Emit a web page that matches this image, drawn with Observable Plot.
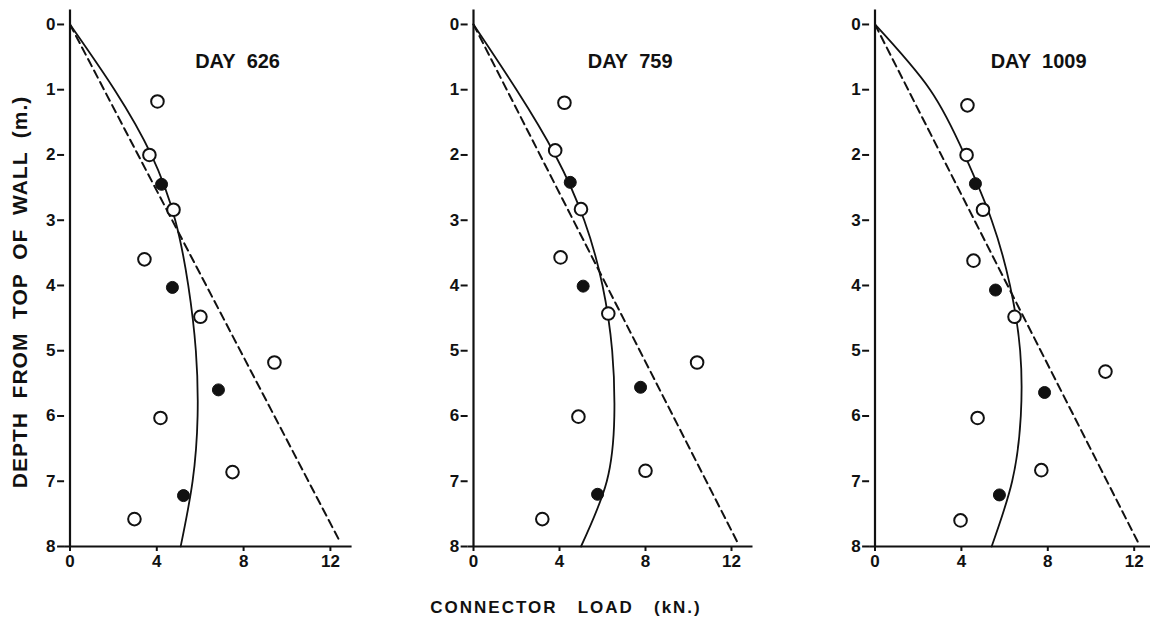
<!DOCTYPE html>
<html><head><meta charset="utf-8">
<script src="https://cdn.jsdelivr.net/npm/d3@7"></script>
<script src="https://cdn.jsdelivr.net/npm/@observablehq/plot@0.6"></script>
<style>
html,body{margin:0;padding:0;background:#fff;overflow:hidden;}
#wrap{position:relative;width:1150px;height:627px;overflow:hidden;font-family:"Liberation Sans",Arial,Helvetica,sans-serif;color:#111;}
.panel{position:absolute;top:0;}
#ylab{position:absolute;left:20px;top:292px;transform:translate(-50%,-50%) rotate(-90deg);white-space:pre;font-weight:bold;font-size:21px;letter-spacing:1px;}
#xlab{position:absolute;left:566px;top:608px;transform:translate(-50%,-50%);white-space:pre;font-weight:bold;font-size:17px;letter-spacing:2px;}
</style></head><body>
<div id="wrap">
  <div id="ylab">DEPTH  FROM  TOP  OF  WALL  (m.)</div>
  <div id="xlab">CONNECTOR   LOAD   (kN.)</div>
</div>
<script>
// ---- data (load kN, depth m) ----
const dayLabels = ["DAY\u00a0\u00a0626", "DAY\u00a0\u00a0759", "DAY\u00a0\u00a01009"];
const xTicks = [0, 4, 8, 12];
const yTicks = [0, 1, 2, 3, 4, 5, 6, 7, 8];

const open626 = [[4.03,1.18],[3.66,2.0],[4.77,2.84],[3.43,3.6],[6.01,4.48],[9.42,5.18],[4.17,6.03],[7.49,6.86],[2.97,7.58]];
const filled626 = [[4.22,2.45],[4.72,4.03],[6.84,5.6],[5.23,7.22]];
const curve626 = [[0,0],[2.05,1],[3.75,2],[4.85,3],[5.45,4],[5.8,5],[5.88,6],[5.65,7],[5.1,8]];
const dash626 = [[0,0],[12.4,7.9]];

const open759 = [[4.23,1.2],[3.8,1.93],[5.0,2.83],[4.05,3.57],[6.27,4.43],[10.4,5.18],[4.88,6.01],[8.0,6.84],[3.2,7.58]];
const filled759 = [[4.5,2.42],[5.1,4.01],[7.77,5.56],[5.77,7.2]];
const curve759 = [[0,0],[2.0,1],[3.8,2],[5.15,3],[6.0,4],[6.45,5],[6.55,6],[6.2,7],[5.0,8]];
const dash759 = [[0,0],[12.3,7.95]];

const open1009 = [[4.28,1.24],[4.24,2.0],[5.0,2.84],[4.56,3.62],[6.46,4.48],[10.67,5.32],[4.75,6.03],[7.7,6.83],[3.96,7.6]];
const filled1009 = [[4.65,2.44],[5.58,4.07],[7.85,5.64],[5.76,7.21]];
const curve1009 = [[0,0],[2.55,1],[4.15,2],[5.4,3],[6.25,4],[6.72,5],[6.75,6],[6.35,7],[5.4,8]];
const dash1009 = [[0,0],[12.2,7.95]];

// ---- layout ----
const panels = [
  {title: dayLabels[0], open: open626, filled: filled626, curve: curve626, dash: dash626, left: 0, origin: 69.5, scale: 21.7, tdx: 173},
  {title: dayLabels[1], open: open759, filled: filled759, curve: curve759, dash: dash759, left: 404, origin: 473, scale: 21.5, tdx: 162},
  {title: dayLabels[2], open: open1009, filled: filled1009, curve: curve1009, dash: dash1009, left: 805, origin: 874.5, scale: 21.6, tdx: 169}
];
const xMin = -0.25, xMax = 13, yTop = -0.22, yBot = 8;
const H = 580, mTop = 9.6, mBottom = 34;

const wrap = document.getElementById("wrap");
for (const p of panels) {
  const frameLeft = p.origin + xMin * p.scale;
  const mLeft = frameLeft - p.left;
  const frameW = (xMax - xMin) * p.scale;
  const mRight = 12;
  const W = mLeft + frameW + mRight;
  const chart = Plot.plot({
    width: W, height: H,
    marginLeft: mLeft, marginRight: mRight, marginTop: mTop, marginBottom: mBottom,
    style: {fontFamily: '"Liberation Sans", Arial, sans-serif', fontWeight: "bold", fontSize: "17px", color: "#111", background: "transparent", overflow: "visible"},
    x: {domain: [xMin, xMax]},
    y: {domain: [yBot, yTop]},
    marks: [
      Plot.ruleX([0], {y1: yTop, y2: yBot, stroke: "#111", strokeWidth: 2.2}),
      Plot.ruleY([yBot], {x1: xMin, x2: xMax, stroke: "#111", strokeWidth: 2.2}),
      Plot.axisY({ticks: yTicks, tickSize: 7, tickPadding: 2, strokeWidth: 2, fontSize: 17, fontWeight: "bold", label: null, tickFormat: d => String(d)}),
      Plot.axisX({ticks: xTicks, tickSize: 5, tickPadding: 3, strokeWidth: 2, fontSize: 17, fontWeight: "bold", label: null, tickFormat: d => String(d)}),
      Plot.line(p.dash, {x: d => d[0], y: d => d[1], stroke: "#111", strokeWidth: 2, strokeDasharray: "8,5"}),
      Plot.line(p.curve, {x: d => d[0], y: d => d[1], stroke: "#111", strokeWidth: 1.8, curve: "natural"}),
      Plot.dot(p.open, {x: d => d[0], y: d => d[1], r: 6.3, fill: "white", stroke: "#111", strokeWidth: 2}),
      Plot.dot(p.filled, {x: d => d[0], y: d => d[1], r: 6, fill: "#111", stroke: "#111", strokeWidth: 1}),
      Plot.text([p.title], {text: d => d, frameAnchor: "top-left", dx: p.tdx, dy: 51, textAnchor: "middle", lineAnchor: "middle", fontSize: 20, fontWeight: "bold", fill: "#111"})
    ]
  });
  chart.classList.add("panel");
  chart.style.left = p.left + "px";
  wrap.appendChild(chart);
}
</script>
</body></html>
